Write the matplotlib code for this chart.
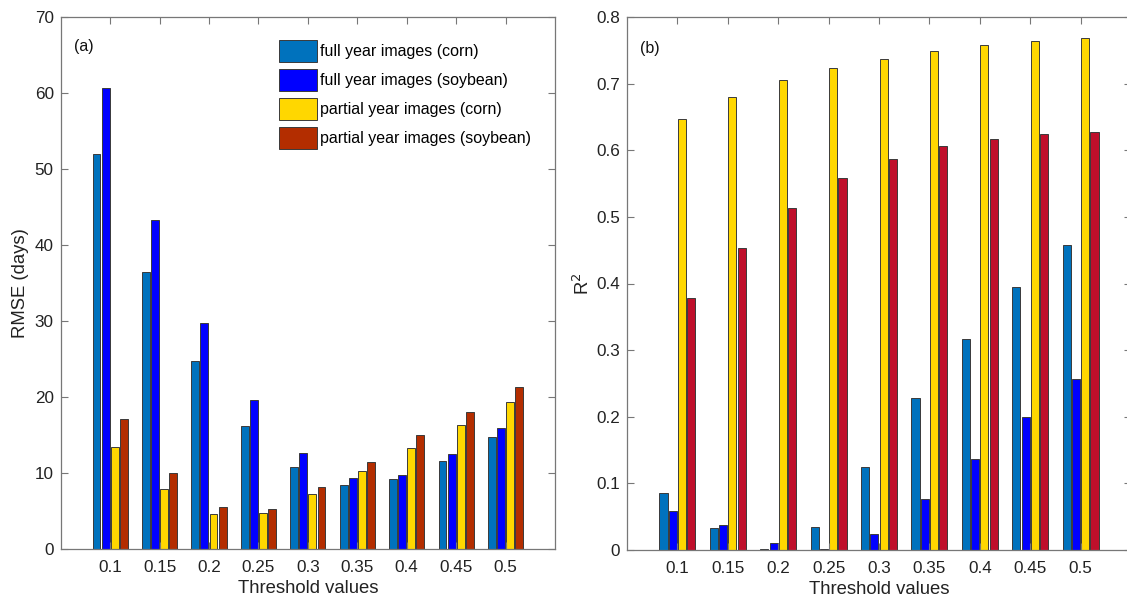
import numpy as np
import matplotlib.pyplot as plt
from matplotlib.ticker import FuncFormatter

plt.rcParams['font.family'] = ['Liberation Sans', 'DejaVu Sans']

thresholds = ['0.1', '0.15', '0.2', '0.25', '0.3', '0.35', '0.4', '0.45', '0.5']
series_names = ['full year images (corn)', 'full year images (soybean)',
                'partial year images (corn)', 'partial year images (soybean)']

# RMSE (days)
rmse_full_corn = [52.0, 36.5, 24.7, 16.2, 10.75, 8.4, 9.2, 11.6, 14.7]
rmse_full_soy = [60.7, 43.3, 29.7, 19.6, 12.7, 9.4, 9.8, 12.45, 15.95]
rmse_part_corn = [13.4, 7.9, 4.55, 4.8, 7.3, 10.3, 13.3, 16.35, 19.3]
rmse_part_soy = [17.05, 9.95, 5.57, 5.3, 8.1, 11.5, 14.95, 18.07, 21.36]

# R^2
r2_full_corn = [0.085, 0.0335, 0.001, 0.034, 0.125, 0.2275, 0.317, 0.394, 0.458]
r2_full_soy = [0.0585, 0.038, 0.01, 0.001, 0.0245, 0.076, 0.1365, 0.199, 0.257]
r2_part_corn = [0.647, 0.6805, 0.705, 0.724, 0.7375, 0.7495, 0.7585, 0.7645, 0.769]
r2_part_soy = [0.378, 0.454, 0.514, 0.559, 0.5865, 0.606, 0.6175, 0.624, 0.6275]

colors_a = ['#0072BD', '#0000FF', '#FFD700', '#B32D00']
colors_b = ['#0072BD', '#0000FF', '#FFD700', '#BF0F2B']

W, H = 1127, 596
fig = plt.figure(figsize=(W / 100, H / 100), dpi=100)
ax1 = fig.add_axes([60.7 / W, 1 - 549 / H, (555 - 60.7) / W, (549 - 17.3) / H])
ax2 = fig.add_axes([627 / W, 1 - 550 / H, (1131 - 627) / W, (550 - 17) / H])

x = np.arange(1, len(thresholds) + 1)
slot = 0.184
bw = 0.16
offsets = (np.arange(4) - 1.5) * slot


def draw(ax, data, colors):
    for i, vals in enumerate(data):
        ax.bar(x + offsets[i], vals, bw, color=colors[i], edgecolor='#3a3a3a',
               linewidth=0.7, label=series_names[i])
    ax.set_xlim(0, 10)
    ax.set_xticks(x)
    ax.set_xticklabels(thresholds)
    ax.tick_params(direction='in', top=True, right=True, length=5, width=0.8,
                   color='#777777', labelsize=12.3, labelcolor='#222222')
    ax.tick_params(axis='x', pad=8)
    ax.tick_params(axis='y', pad=5)
    for s in ax.spines.values():
        s.set_color('#777777')
        s.set_linewidth(0.9)
    ax.set_xlabel('Threshold values', fontsize=13.3, color='#222222', labelpad=3.5)


draw(ax1, [rmse_full_corn, rmse_full_soy, rmse_part_corn, rmse_part_soy], colors_a)
ax1.set_ylim(0, 70)
ax1.set_yticks(np.arange(0, 71, 10))
ax1.set_ylabel('RMSE (days)', fontsize=13.3, color='#222222', labelpad=4)
ax1.text(74 / W, 1 - 47 / H, '(a)', transform=fig.transFigure, fontsize=11.5,
         va='center', ha='left', color='#111111')
ax1.legend(loc='upper left', bbox_to_anchor=(279 / W, 1 - 40 / H),
           bbox_transform=fig.transFigure, frameon=False, borderpad=0,
           fontsize=11.5, handlelength=2.36, handleheight=1.74,
           handletextpad=0.2, labelspacing=0.44, borderaxespad=0)

draw(ax2, [r2_full_corn, r2_full_soy, r2_part_corn, r2_part_soy], colors_b)
ax2.set_ylim(0, 0.8)
ax2.set_yticks(np.arange(0, 0.81, 0.1))
ax2.yaxis.set_major_formatter(FuncFormatter(lambda v, p: '%g' % round(v, 2)))
ax2.set_ylabel('R$^2$', fontsize=13.3, color='#222222', labelpad=2)
ax2.text(640 / W, 1 - 49 / H, '(b)', transform=fig.transFigure, fontsize=11.5,
         va='center', ha='left', color='#111111')

fig.savefig('out.png', dpi=100)
